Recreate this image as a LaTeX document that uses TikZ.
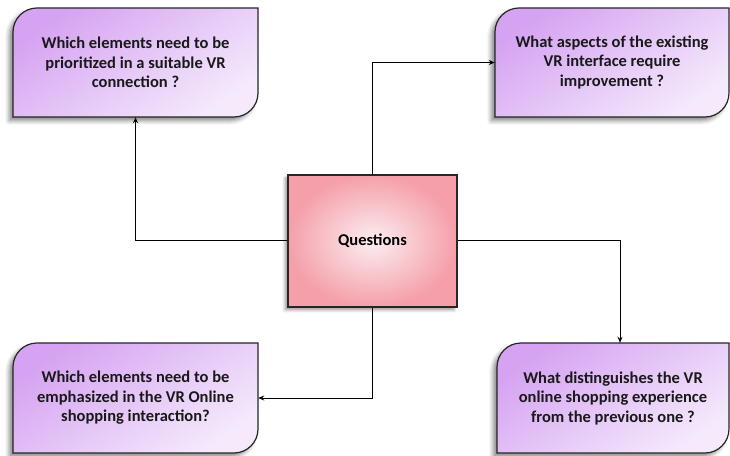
\documentclass[tikz,border=0pt]{standalone}
\usepackage{fontspec}
\setmainfont{Carlito}
\usetikzlibrary{shadows.blur,arrows.meta}
\definecolor{vrtop}{HTML}{D6A3F2}
\definecolor{vrbot}{HTML}{F4EAFC}
\definecolor{qpink}{HTML}{F59FAA}
\definecolor{qin}{HTML}{FBEEF0}
\tikzset{
  qshape/.style={draw=black!85, line width=1.2pt, top color=vrtop, bottom color=vrbot, shading angle=35,
    blur shadow={shadow xshift=-4pt, shadow yshift=-4pt, shadow blur radius=4pt, shadow opacity=45}},
  qtext/.style={inner sep=0pt, align=center, font=\fontsize{16.5}{19.5}\selectfont\bfseries, text=black!90},
  centerbox/.style={draw=black!85, line width=1.2pt, inner color=qin, outer color=qpink,
    blur shadow={shadow xshift=-3pt, shadow yshift=-3pt, shadow blur radius=3pt, shadow opacity=40},
    inner sep=0pt, font=\fontsize{16.5}{19}\selectfont\bfseries},
  conn/.style={draw=black, line width=1pt, -{Stealth[length=6pt,width=5pt]}}
}
\newcommand\QBox[6]{%
  \path[qshape] (#2,#3) -- (#2,#5-24) arc[start angle=180,end angle=90,radius=24] -- (#4,#5)
     -- (#4,#3+24) arc[start angle=0,end angle=-90,radius=24] -- cycle;
  \node[qtext, minimum width={#4-#2}, minimum height={#5-#3}] (#1) at ({(#2+#4)/2},{(#3+#5)/2}) {#6};
}
\begin{document}
\begin{tikzpicture}[x=1pt,y=1pt]
\useasboundingbox (0,0) rectangle (730,455);
\QBox{TL}{13}{338}{258}{447}{Which elements need to be\\prioritized in a suitable VR\\connection ?}
\QBox{TR}{495}{338}{729}{447}{What aspects of the existing\\VR interface require\\improvement ?}
\QBox{BL}{13}{2}{258}{112}{Which elements need to be\\emphasized in the VR Online\\shopping interaction?}
\QBox{BR}{497}{2}{729}{112}{What distinguishes the VR\\online shopping experience\\from the previous one ?}
\node[centerbox, minimum width=169pt, minimum height=132pt] (Q) at (372.5,214) {Questions};
\draw[conn] (Q.west) -| (TL.south);
\draw[conn] (Q.north) |- (TR.west);
\draw[conn] (Q.east) -| ([xshift=7pt]BR.north);
\draw[conn] (Q.south) |- (BL.east);
\end{tikzpicture}
\end{document}
